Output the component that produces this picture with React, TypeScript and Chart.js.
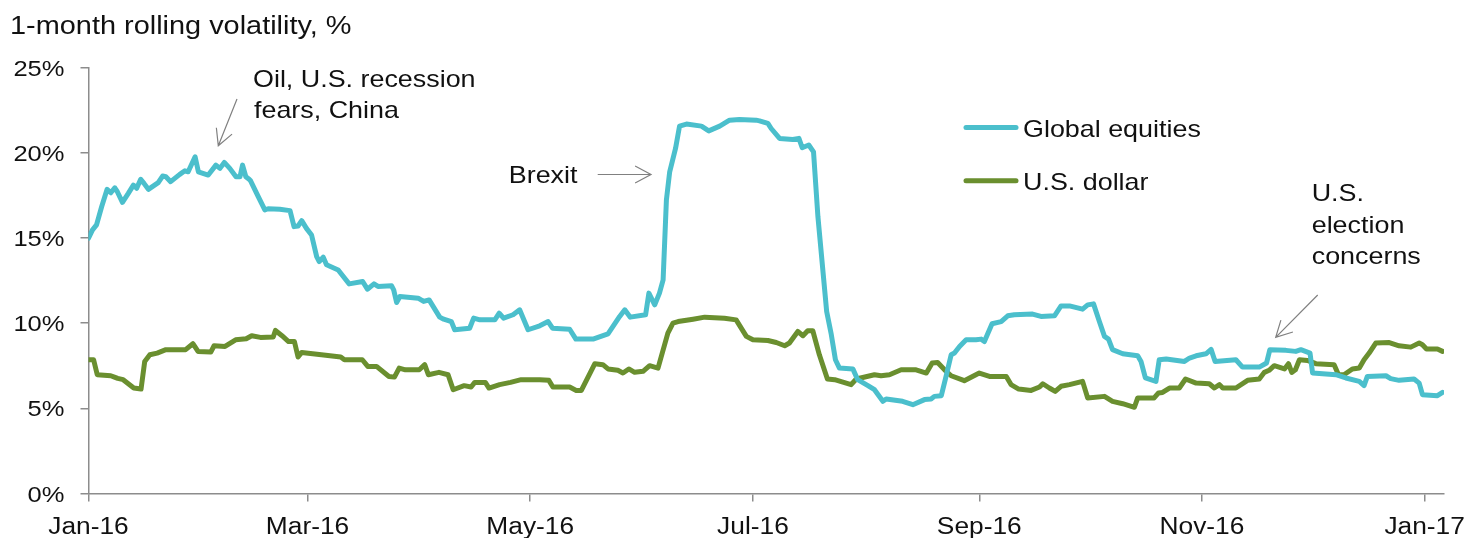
import { useEffect, useRef } from 'react';
import { Chart, registerables } from 'chart.js';

Chart.register(...registerables);

// ---- Data (x = days since 1 Jan 2016, y = 1-month rolling volatility in %) ----
const seriesNames = ['Global equities', 'U.S. dollar'];

const eqDays = [0, 1.1, 2.2, 3.6, 5.1, 6.1, 7.2, 7.9, 9.3, 10.9,
  12.3, 13.2, 14.3, 15.2, 16.4, 19.1, 20.3, 21.2, 22.5, 25.0,
  26.4, 27.3, 29.2, 30.1, 32.8, 34.9, 36.0, 37.2, 38.7, 40.4,
  41.5, 42.2, 43.1, 44.0, 44.4, 46.5, 48.3, 49.2, 52.4, 55.2,
  56.3, 57.4, 58.4, 59.7, 61.1, 62.5, 63.2, 64.3, 65.2, 68.4,
  69.8, 71.4, 75.1, 76.4, 78.2, 79.3, 83.0, 83.6, 84.4, 85.3,
  90.3, 91.8, 93.3, 96.2, 97.3, 99.4, 100.3, 104.4, 105.5, 107.2,
  111.3, 112.5, 113.7, 116.3, 118.1, 120.4, 123.6, 125.9, 127.1, 131.8,
  133.5, 138.2, 142.3, 145.5, 146.9, 148.4, 152.6, 153.5, 155.1, 156.4,
  157.4, 158.3, 159.2, 160.8, 161.9, 163.8, 167.9, 169.9, 172.9, 175.6,
  178.3, 182.9, 183.8, 186.1, 187.0, 189.3, 192.9, 194.6, 195.5, 197.3,
  198.6, 199.8, 202.2, 203.4, 204.6, 205.7, 209.4, 210.7, 213.5, 215.3,
  217.6, 218.5, 223.0, 225.8, 229.0, 230.8, 231.7, 233.6, 234.9, 236.3,
  237.2, 238.6, 240.4, 243.1, 244.5, 245.4, 247.5, 250.0, 251.8, 253.6,
  258.6, 260.9, 264.6, 266.4, 268.7, 272.3, 273.7, 275.3, 276.9, 278.3,
  279.4, 280.5, 283.3, 287.4, 288.3, 289.5, 292.4, 293.3, 295.2, 300.2,
  301.6, 303.4, 306.1, 307.5, 308.6, 314.3, 316.1, 320.7, 322.7, 323.6,
  328.0, 330.7, 332.1, 334.6, 335.3, 341.7, 344.4, 348.1, 349.4, 350.3,
  355.4, 356.7, 359.0, 363.1, 364.5, 365.4, 369.5, 370.9];

const eqVals = [14.98, 15.47, 15.76, 16.83, 17.85, 17.65, 17.94, 17.71, 17.09, 17.61,
  18.1, 17.91, 18.44, 18.2, 17.85, 18.24, 18.63, 18.59, 18.3, 18.73,
  18.94, 18.88, 19.76, 18.88, 18.69, 19.27, 19.08, 19.43, 19.08, 18.59,
  18.59, 19.27, 18.59, 18.44, 18.35, 17.42, 16.64, 16.71, 16.68, 16.6,
  15.66, 15.7, 16.01, 15.56, 15.17, 13.9, 13.61, 13.87, 13.42, 13.12,
  12.73, 12.3, 12.44, 11.99, 12.3, 12.15, 12.19, 11.95, 11.21, 11.56,
  11.46, 11.27, 11.36, 10.35, 10.23, 10.09, 9.61, 9.7, 10.29, 10.19,
  10.19, 10.58, 10.29, 10.49, 10.78, 9.61, 9.84, 10.09, 9.7, 9.64,
  9.06, 9.06, 9.37, 10.39, 10.78, 10.35, 10.49, 11.76, 11.07, 11.76,
  12.54, 17.22, 18.88, 20.25, 21.56, 21.68, 21.56, 21.28, 21.56, 21.91,
  21.95, 21.91, 21.87, 21.72, 21.42, 20.84, 20.78, 20.84, 20.29, 20.45,
  20.05, 16.25, 10.68, 9.41, 7.85, 7.36, 7.3, 6.68, 6.33, 6.09,
  5.41, 5.55, 5.41, 5.21, 5.51, 5.55, 5.7, 5.74, 6.87, 8.14,
  8.24, 8.63, 9.02, 9.02, 9.06, 8.92, 9.96, 10.09, 10.43, 10.49,
  10.53, 10.39, 10.43, 11.01, 11.01, 10.82, 11.07, 11.13, 10.09, 9.22,
  9.06, 8.44, 8.2, 8.08, 7.75, 6.78, 6.58, 7.85, 7.89, 7.75,
  7.95, 8.08, 8.2, 8.46, 7.75, 7.85, 7.42, 7.42, 7.66, 8.44,
  8.4, 8.34, 8.44, 8.24, 7.07, 6.97, 6.78, 6.58, 6.33, 6.87,
  6.91, 6.74, 6.64, 6.72, 6.48, 5.8, 5.74, 5.93];

const usdDays = [0, 1.4, 2.4, 6.1, 7.1, 8.0, 9.5, 12.4, 14.4, 15.4,
  16.8, 18.8, 21.2, 26.6, 28.6, 30.0, 33.5, 34.4, 37.4, 40.3,
  43.2, 44.7, 47.1, 50.6, 51.2, 53.0, 54.8, 56.4, 57.4, 58.4,
  63.8, 69.1, 70.1, 75.0, 76.5, 78.9, 82.3, 83.8, 85.1, 86.8,
  90.6, 92.1, 93.1, 96.0, 98.5, 99.9, 102.9, 104.8, 105.8, 108.7,
  109.7, 112.6, 115.6, 118.5, 123.6, 126.1, 127.2, 131.8, 133.6, 135.0,
  138.7, 140.9, 142.3, 145.0, 146.4, 148.0, 149.6, 151.9, 153.7, 156.0,
  158.7, 160.1, 161.5, 165.6, 168.8, 174.2, 177.4, 180.2, 182.0, 186.1,
  188.4, 190.7, 192.0, 194.3, 195.7, 197.0, 198.4, 200.2, 202.4, 204.4,
  208.9, 210.3, 215.3, 217.1, 219.4, 222.6, 226.7, 229.5, 231.1, 232.6,
  234.5, 236.3, 239.9, 244.0, 246.8, 251.4, 252.7, 254.8, 258.2, 260.5,
  261.4, 263.2, 264.8, 266.4, 268.7, 272.3, 273.7, 278.3, 280.5, 283.3,
  286.5, 287.4, 291.9, 293.1, 294.2, 296.1, 298.8, 300.5, 303.4, 307.0,
  308.4, 309.8, 310.7, 314.3, 317.5, 320.7, 322.1, 323.4, 324.8, 327.6,
  328.7, 329.6, 330.6, 331.7, 333.9, 336.2, 341.2, 342.4, 343.9, 346.2,
  348.1, 349.4, 350.8, 352.6, 356.3, 359.0, 362.2, 364.5, 365.4, 366.5,
  369.5, 370.9];

const usdVals = [7.85, 7.85, 6.97, 6.91, 6.83, 6.76, 6.68, 6.19, 6.13, 7.75,
  8.14, 8.24, 8.44, 8.44, 8.79, 8.34, 8.3, 8.67, 8.63, 9.02,
  9.08, 9.26, 9.16, 9.18, 9.57, 9.26, 8.92, 8.92, 8.01, 8.28,
  8.14, 8.01, 7.85, 7.85, 7.46, 7.46, 6.87, 6.83, 7.36, 7.26,
  7.26, 7.56, 6.97, 7.11, 6.97, 6.09, 6.33, 6.25, 6.52, 6.52,
  6.19, 6.39, 6.52, 6.68, 6.68, 6.64, 6.25, 6.25, 6.05, 6.05,
  7.62, 7.56, 7.31, 7.23, 7.07, 7.31, 7.11, 7.17, 7.5, 7.36,
  9.41, 10.0, 10.09, 10.23, 10.35, 10.29, 10.19, 9.22, 9.02, 8.98,
  8.86, 8.67, 8.83, 9.51, 9.26, 9.55, 9.55, 8.14, 6.72, 6.68,
  6.39, 6.72, 6.97, 6.91, 6.97, 7.26, 7.26, 7.07, 7.66, 7.69,
  7.26, 6.91, 6.62, 7.07, 6.87, 6.87, 6.39, 6.13, 6.05, 6.25,
  6.44, 6.19, 5.99, 6.29, 6.39, 6.58, 5.61, 5.7, 5.41, 5.27,
  5.06, 5.61, 5.61, 5.9, 5.93, 6.19, 6.19, 6.72, 6.48, 6.44,
  6.19, 6.39, 6.19, 6.19, 6.64, 6.72, 7.11, 7.23, 7.5, 7.31,
  7.62, 7.11, 7.26, 7.85, 7.81, 7.62, 7.56, 6.97, 6.97, 7.31,
  7.36, 7.85, 8.24, 8.83, 8.86, 8.67, 8.59, 8.83, 8.73, 8.48,
  8.48, 8.34];

const monthTickDays = [0, 60, 121, 182, 244, 305, 366];
const monthTickLabels = ['Jan-16', 'Mar-16', 'May-16', 'Jul-16', 'Sep-16', 'Nov-16', 'Jan-17'];
const pctTicks = [0, 5, 10, 15, 20, 25];

const titleText = '1-month rolling volatility, %';
const noteOil = ['Oil, U.S. recession', 'fears, China'];
const noteBrexit = 'Brexit';
const noteElection = ['U.S.', 'election', 'concerns'];

// ---- Styles ----
const EQ_COLOR = '#4BBFCC';
const USD_COLOR = '#6A8F2F';
const AXIS_COLOR = '#8c8c8c';
const ARROW_COLOR = '#808080';
const TEXT_COLOR = '#111111';
const FONT = '"Liberation Sans", Arial, Helvetica, sans-serif';
const SX = 1.12;

function drawText(ctx: CanvasRenderingContext2D, s: string, x: number, y: number, size: number, align: CanvasTextAlign = 'left') {
  ctx.save();
  ctx.font = `${size}px ${FONT}`;
  ctx.textAlign = align;
  ctx.textBaseline = 'alphabetic';
  ctx.fillStyle = TEXT_COLOR;
  ctx.translate(x, y);
  ctx.scale(SX, 1);
  ctx.fillText(s, 0, 0);
  ctx.restore();
}

function drawArrow(ctx: CanvasRenderingContext2D, x1: number, y1: number, x2: number, y2: number) {
  const ang = Math.atan2(y2 - y1, x2 - x1);
  const len = 18;
  const spread = (28 * Math.PI) / 180;
  ctx.save();
  ctx.strokeStyle = ARROW_COLOR;
  ctx.lineWidth = 1.2;
  ctx.beginPath();
  ctx.moveTo(x1, y1);
  ctx.lineTo(x2, y2);
  ctx.moveTo(x2 - len * Math.cos(ang - spread), y2 - len * Math.sin(ang - spread));
  ctx.lineTo(x2, y2);
  ctx.lineTo(x2 - len * Math.cos(ang + spread), y2 - len * Math.sin(ang + spread));
  ctx.stroke();
  ctx.restore();
}

const decorPlugin = {
  id: 'decor',
  afterDraw(chart: any) {
    const ctx: CanvasRenderingContext2D = chart.ctx;
    const xs = chart.scales.x;
    const ys = chart.scales.y;

    drawText(ctx, titleText, 10, 33.5, 25.8);

    pctTicks.forEach((v) => {
      drawText(ctx, `${v}%`, 64.5, ys.getPixelForValue(v) + 8, 22.8, 'right');
    });
    monthTickDays.forEach((d, i) => {
      drawText(ctx, monthTickLabels[i], xs.getPixelForValue(d), 534, 23.5, 'center');
    });

    // legend
    const legendY = [127.5, 180.7];
    const legendColors = [EQ_COLOR, USD_COLOR];
    seriesNames.forEach((name, i) => {
      ctx.save();
      ctx.strokeStyle = legendColors[i];
      ctx.lineWidth = 5;
      ctx.lineCap = 'round';
      ctx.beginPath();
      ctx.moveTo(966, legendY[i]);
      ctx.lineTo(1016, legendY[i]);
      ctx.stroke();
      ctx.restore();
      drawText(ctx, name, 1023, legendY[i] + 9.2, 24);
    });

    // annotations
    drawText(ctx, noteOil[0], 253, 87.3, 24);
    drawText(ctx, noteOil[1], 254, 118.3, 24);
    drawArrow(ctx, 237, 99, 218.3, 145.7);

    drawText(ctx, noteBrexit, 577.5, 183.3, 24, 'right');
    drawArrow(ctx, 597.7, 174.5, 651, 174.5);

    drawText(ctx, noteElection[0], 1311.7, 200.7, 24);
    drawText(ctx, noteElection[1], 1311.7, 232.7, 24);
    drawText(ctx, noteElection[2], 1311.7, 264, 24);
    drawArrow(ctx, 1317.7, 295, 1275.7, 337.3);
  },
};

export default function App() {
  const canvasRef = useRef<HTMLCanvasElement | null>(null);

  useEffect(() => {
    if (!canvasRef.current) return;
    const axisGrid = {
      drawOnChartArea: false,
      drawTicks: true,
      tickLength: 8,
      color: AXIS_COLOR,
      lineWidth: 1.5,
    };
    const axisBorder = { color: AXIS_COLOR, width: 1.5 };

    const chart = new Chart(canvasRef.current, {
      type: 'line',
      data: {
        datasets: [
          {
            label: seriesNames[0],
            data: eqDays.map((d, i) => ({ x: d, y: eqVals[i] })),
            borderColor: EQ_COLOR,
            backgroundColor: EQ_COLOR,
            borderWidth: 5,
            pointRadius: 0,
            tension: 0,
            borderJoinStyle: 'round',
            borderCapStyle: 'round',
          },
          {
            label: seriesNames[1],
            data: usdDays.map((d, i) => ({ x: d, y: usdVals[i] })),
            borderColor: USD_COLOR,
            backgroundColor: USD_COLOR,
            borderWidth: 5,
            pointRadius: 0,
            tension: 0,
            borderJoinStyle: 'round',
            borderCapStyle: 'round',
          },
        ],
      },
      options: {
        animation: false,
        responsive: false,
        events: [],
        layout: { padding: { top: 67.5, right: 27, bottom: 0, left: 0 } },
        plugins: {
          legend: { display: false },
          tooltip: { enabled: false },
          title: { display: false },
        },
        scales: {
          x: {
            type: 'linear',
            min: 0,
            max: 371.3,
            afterBuildTicks: (s: any) => {
              s.ticks = monthTickDays.map((v) => ({ value: v }));
            },
            afterFit: (s: any) => {
              s.height = 44.5;
            },
            ticks: { display: false },
            grid: axisGrid,
            border: axisBorder,
          },
          y: {
            type: 'linear',
            min: 0,
            max: 25,
            afterBuildTicks: (s: any) => {
              s.ticks = pctTicks.map((v) => ({ value: v }));
            },
            afterFit: (s: any) => {
              s.width = 88.5;
            },
            ticks: { display: false },
            grid: axisGrid,
            border: axisBorder,
          },
        },
      } as any,
      plugins: [decorPlugin],
    });
    return () => chart.destroy();
  }, []);

  return (
    <div style={{ position: 'fixed', left: 0, top: 0, width: 1471, height: 538, background: '#ffffff' }}>
      <canvas ref={canvasRef} width={1471} height={538} style={{ display: 'block' }} />
    </div>
  );
}
